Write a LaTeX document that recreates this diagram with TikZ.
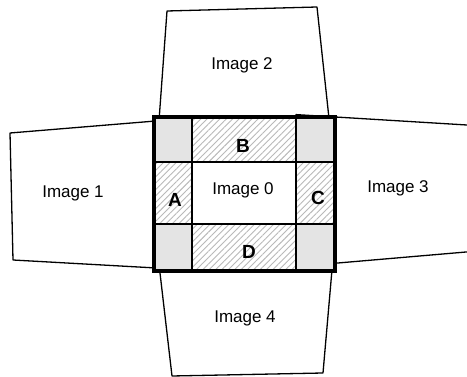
\documentclass[tikz,border=0pt]{standalone}
\usepackage{fontspec}
\setmainfont{Liberation Sans}
\usetikzlibrary{patterns.meta}
\tikzset{
  imgedge/.style={line width=1.3pt, line join=bevel},
  hatchfill/.style={pattern={Lines[angle=45,distance=4.5pt,line width=0.9pt]}, pattern color=gray!55},
  dotfill/.style={pattern={Dots[distance=2pt,radius=0.7pt]}, pattern color=gray!90},
  gridline/.style={line width=1.6pt},
  border/.style={line width=3.8pt, line join=miter},
  imglabel/.style={font=\fontsize{17}{17}\selectfont, inner sep=0pt},
  zonelabel/.style={font=\fontsize{19}{19}\selectfont\bfseries, inner sep=0pt}
}
\begin{document}
\begin{tikzpicture}[x=1pt,y=-1pt]
\useasboundingbox (0,0) rectangle (467,377);
\clip (0,0) rectangle (467,377);
% outer images
\draw[imgedge] (10,133) -- (192,118) -- (192,270) -- (13,260) -- cycle;
\draw[imgedge] (167,11) -- (317,7) -- (333.7,162) -- (156,162) -- cycle;
\draw[imgedge] (296,114.6) -- (480,125.8) -- (480,250.8) -- (296,266.6) -- cycle;
\draw[imgedge] (154.3,224) -- (336,224) -- (323,373) -- (172,376) -- cycle;
% white base of image 0
\fill[white] (154,117) rectangle (335,271);
% overlap zones
\fill[dotfill] (154,117) rectangle (192,162);
\fill[dotfill] (296,117) rectangle (335,162);
\fill[dotfill] (154,224) rectangle (192,271);
\fill[dotfill] (296,224) rectangle (335,271);
\fill[hatchfill] (192,117) rectangle (296,162);
\fill[hatchfill] (192,224) rectangle (296,271);
\fill[hatchfill] (154,162) rectangle (192,224);
\fill[hatchfill] (296,162) rectangle (335,224);
\fill[white] (192,162) rectangle (296,224);
% grid
\draw[gridline] (192,117) -- (192,271);
\draw[gridline] (296,117) -- (296,271);
\draw[gridline] (154,162) -- (335,162);
\draw[gridline] (154,224) -- (335,224);
\draw[border] (154,117) rectangle (335,271);
% labels
\node[imglabel] (i0) at (243,190) {Image 0};
\node[imglabel] (i1) at (73,193) {Image 1};
\node[imglabel] (i2) at (242,65) {Image 2};
\node[imglabel] (i3) at (398,188) {Image 3};
\node[imglabel] (i4) at (245,318) {Image 4};
\node[zonelabel] (za) at (175,200) {A};
\node[zonelabel] (zb) at (243,146) {B};
\node[zonelabel] (zc) at (318,198) {C};
\node[zonelabel] (zd) at (249,252) {D};
\end{tikzpicture}
\end{document}
